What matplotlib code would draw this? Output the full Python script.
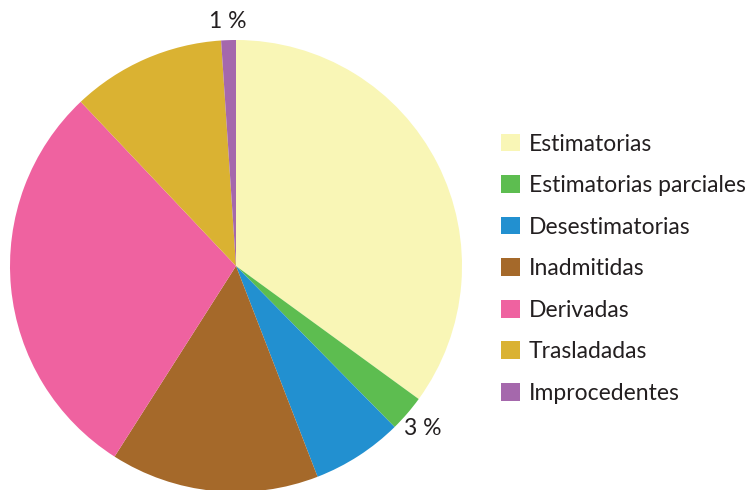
import matplotlib
matplotlib.use("Agg")
import matplotlib.pyplot as plt

# Datos del gráfico (porcentajes)
categorias = ["Estimatorias", "Estimatorias parciales", "Desestimatorias",
              "Inadmitidas", "Derivadas", "Trasladadas", "Improcedentes"]
valores = [35.0, 2.6, 6.5, 14.9, 28.9, 11.0, 1.05]
etiquetas = ["", "3 %", "", "", "", "", "1 %"]
colores = ["#F9F6B6", "#5DBD50", "#2290D0", "#A5692A",
           "#EF62A0", "#DAB232", "#A568AC"]

plt.rcParams['font.family'] = ['Lato', 'DejaVu Sans']
texto_color = "#231F20"

W, H = 745, 490
fig = plt.figure(figsize=(W / 100, H / 100), dpi=100)

# Centro del círculo (236, 266) px, radio 226 px
cx, cy, r = 236, 266, 226
ax = fig.add_axes([(cx - r) / W, (H - cy - r) / H, 2 * r / W, 2 * r / H])

cunas, textos = ax.pie(valores, labels=etiquetas, colors=colores,
                       startangle=90, counterclock=False, labeldistance=1.09,
                       wedgeprops=dict(linewidth=0),
                       textprops=dict(fontsize=16.5, color=texto_color))
for t in textos:
    t.set_ha("center")
    t.set_va("center_baseline")
ax.set_xlim(-1, 1)
ax.set_ylim(-1, 1)
ax.set_aspect("equal")
ax.axis("off")

leg = fig.legend(cunas, categorias, loc="upper left",
                 bbox_to_anchor=(501 / W, 1 - 133.5 / H),
                 frameon=False, fontsize=16.5, handlelength=0.82,
                 handleheight=0.82, handletextpad=0.4, labelspacing=0.895,
                 borderpad=0, borderaxespad=0)
for t in leg.get_texts():
    t.set_color(texto_color)

fig.savefig("out.png", dpi=100)
